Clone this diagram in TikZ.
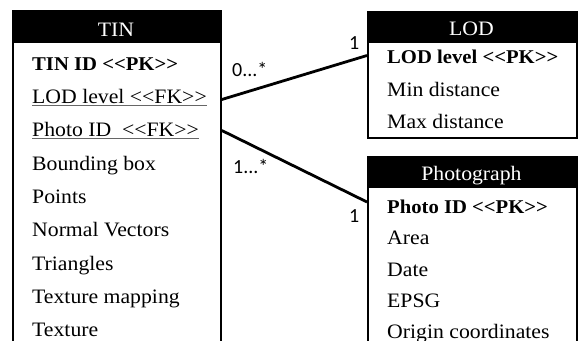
\documentclass[tikz,border=0pt]{standalone}
\usepackage{fontspec}
\setmainfont{Liberation Serif}[FakeStretch=1.06]
\newfontfamily\lblfont{Carlito}
\usetikzlibrary{calc}
\newcommand\ltlt{<\kern0pt<}
\newcommand\gtgt{>\kern0pt>}
\begin{document}
\begin{tikzpicture}[x=1pt,y=-1pt,
  tbl/.style={draw=black,line width=1.8pt,inner sep=0,anchor=north west},
  hdr/.style={fill=black},
  hdrtext/.style={text=white,font=\fontsize{20.5}{20.5}\selectfont,anchor=base,inner sep=0},
  row/.style={anchor=base west,inner sep=0,font=\fontsize{20.5}{20.5}\selectfont},
  pk/.style={row,font=\fontsize{19.5}{19.5}\selectfont\bfseries},
  ul/.style={draw=black!60,line width=0.9pt},
  conn/.style={line width=2.8pt},
  mult/.style={font=\lblfont\fontsize{20}{20}\selectfont,inner sep=0,anchor=base west}
]
\useasboundingbox (0,0) rectangle (578,340);
\clip (0,0) rectangle (578,340);
% TIN table
\fill[hdr] (12,10) rectangle (220,43);
\node[tbl,minimum width=208pt,minimum height=360pt] (tin) at (12,10) {};
\node[hdrtext] (tinh) at (116,36) {TIN};
\node[pk] (tinid) at (32,70.5) {TIN ID \ltlt PK\gtgt};
\node[row] (tinlod) at (32,103.5) {LOD level \ltlt FK\gtgt};
\node[row] (tinphoto) at (32,136.5) {Photo ID~ \ltlt FK\gtgt};
\node[row] (tinbb) at (32,170) {Bounding box};
\node[row] (tinpts) at (32,203) {Points};
\node[row] (tinnv) at (32,236.5) {Normal Vectors};
\node[row] (tintri) at (32,270) {Triangles};
\node[row] (tintm) at (32,303) {Texture mapping};
\node[row] (tintex) at (32,336.5) {Texture};
\draw[ul] ($(tinlod.base west)+(0,1.5)$) -- ($(tinlod.base east)+(0,1.5)$);
\draw[ul] ($(tinphoto.base west)+(0,1.5)$) -- ($(tinphoto.base east)+(0,1.5)$);
% LOD table
\fill[hdr] (367,11) rectangle (576,43);
\node[tbl,minimum width=209pt,minimum height=126pt] (lod) at (367,11) {};
\node[hdrtext] (lodh) at (471.5,35) {LOD};
\node[pk] (lodpk) at (387,63.5) {LOD level \ltlt PK\gtgt};
\node[row] (lodmin) at (387,96) {Min distance};
\node[row] (lodmax) at (387,128.5) {Max distance};
% Photograph table
\fill[hdr] (367,156) rectangle (576,188);
\node[tbl,minimum width=209pt,minimum height=220pt] (photo) at (367,156) {};
\node[hdrtext] (photoh) at (471.5,180) {Photograph};
\node[pk] (photopk) at (387,213) {Photo ID \ltlt PK\gtgt};
\node[row] (photoarea) at (387,244.5) {Area};
\node[row] (photodate) at (387,276) {Date};
\node[row] (photoepsg) at (387,307) {EPSG};
\node[row] (photoorig) at (387,338) {Origin coordinates};
% connectors
\draw[conn] ($(tin.east |- tinlod.base)+(0,-4)$) -- ($(lod.west |- lodpk.base)+(0,-8)$);
\draw[conn] ($(tin.east |- tinphoto.base)+(0,-6)$) -- ($(photo.west |- photopk.base)+(0,-11)$);
% multiplicities
\node[mult] (m1) at (232,76.5) {0...*};
\node[mult] (m2) at (349,49) {1};
\node[mult] (m3) at (233,173) {1...*};
\node[mult] (m4) at (349,222) {1};
\end{tikzpicture}
\end{document}
